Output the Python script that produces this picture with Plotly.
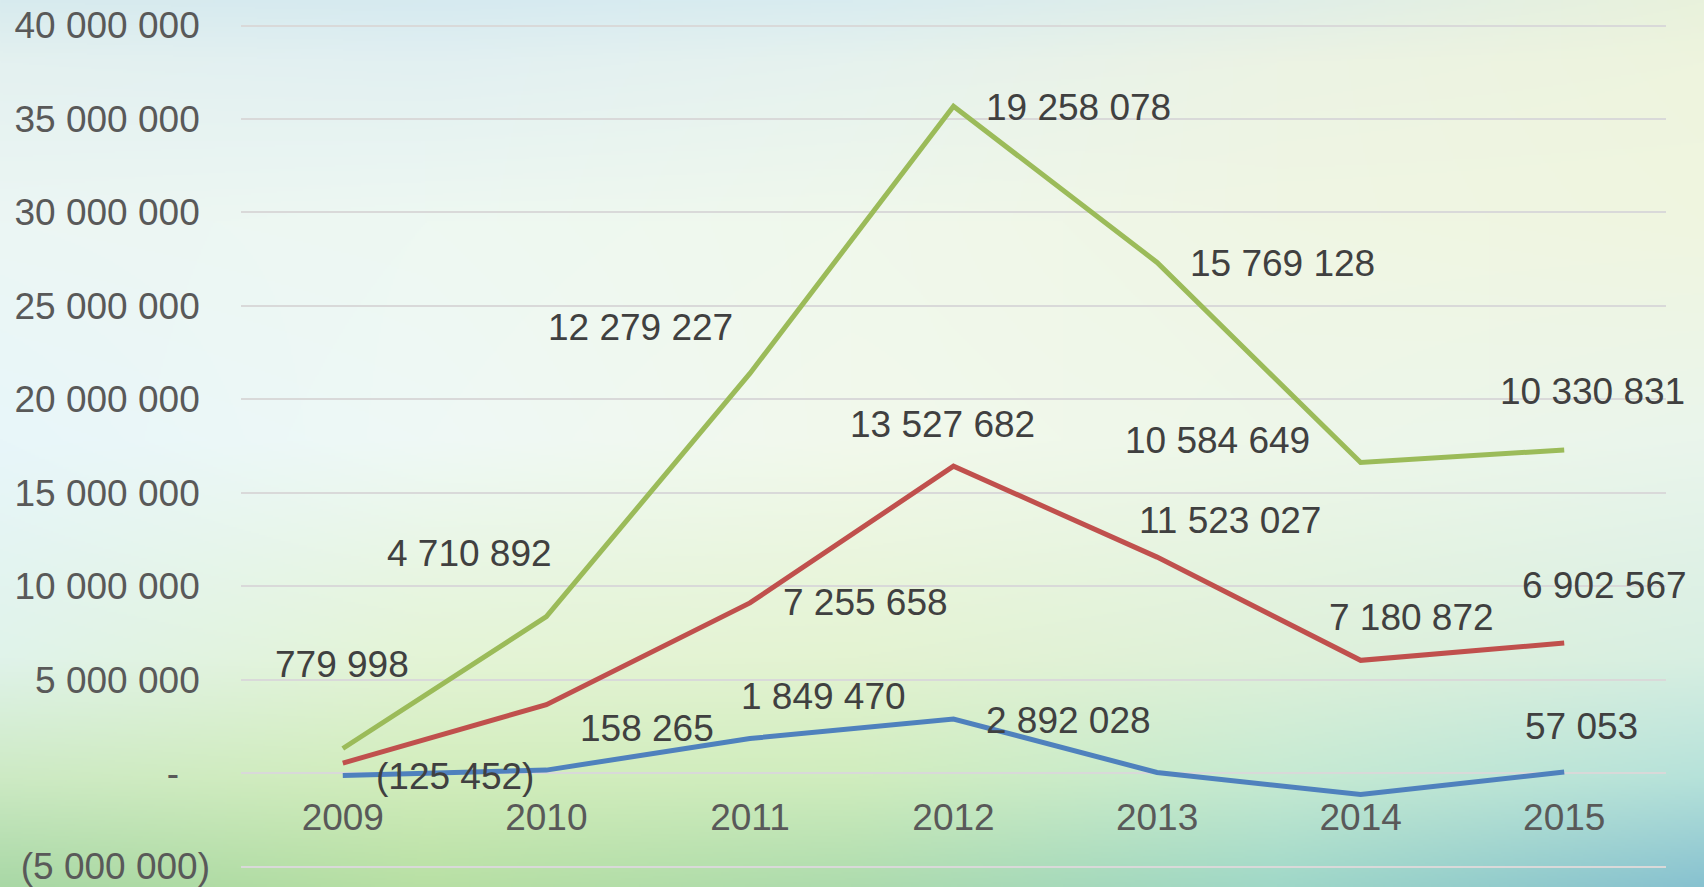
import base64
import struct
import zlib

import numpy as np
import plotly.graph_objects as go

# ---------------- data ----------------
years = ["2009", "2010", "2011", "2012", "2013", "2014", "2015"]
blue_values = [-125452, 158265, 1849470, 2892028, 32000, -1150000, 57053]
red_values = [660000, 3500000, 7255658, 13527682, 11523027, 7180872, 6902567]
green_values = [779998, 4710892, 12279227, 19258078, 15769128, 10584649, 10330831]

# which data labels are visible in the reference
blue_labels_shown = [True, True, True, True, False, False, True]
red_labels_shown = [False, False, True, True, True, True, True]
green_labels_shown = [True, True, True, True, True, True, True]

y_tick_values = [-5000000, 0, 5000000, 10000000, 15000000, 20000000,
                 25000000, 30000000, 35000000, 40000000]

# ---------------- styles ----------------
W, H = 1704, 887
M_L, M_R, M_T, M_B = 241, 38, 24, 19
FONT = "Liberation Sans, Arial, sans-serif"
TICK_COLOR = "#595959"
LABEL_COLOR = "#404040"
FS = 37
COLORS = {"blue": "#4F81BD", "red": "#C0504D", "green": "#9BBB59"}

# label offsets (xshift, yshift) in px relative to the point
OFFSETS = {
    "green": [(-1, 84), (-77, 63), (-109, 46), (125, -1), (125, -1), (-143, 22), (28, 58)],
    "red": [(0, 0), (0, 0), (116, 0), (-11, 42), (73, 37), (51, 43), (40, 57)],
    "blue": [(112, -1), (101, 42), (74, 42), (115, -1), (0, 0), (0, 0), (17, 45)],
}


def fmt(v, pad=True):
    s = f"{abs(int(round(v))):,}".replace(",", " ")
    if v < 0:
        return f"({s})"
    if v == 0:
        return "-\u2007\u00a0"
    return s + ("\u00a0" if pad else "")


# ---------------- background image ----------------
def hexrgb(h):
    h = h.lstrip("#")
    return [int(h[i:i + 2], 16) for i in (0, 2, 4)]


grid_rows_y = [0, 60, 220, 440, 660, 780, 887]
grid_cols_x = [0, 426, 852, 1278, 1704]
grid_colors = [
    ["#d8ebee", "#d6eaf0", "#d9ecf0", "#e0eee8", "#e9f2dc"],
    ["#e4f1f0", "#e2f0f2", "#e6f2ee", "#ecf3e4", "#eef4de"],
    ["#ecf6f4", "#eef8f2", "#f0f8ec", "#f0f6e4", "#f0f6e0"],
    ["#e8f6fa", "#eff9f6", "#f2f9ec", "#eef7ea", "#eaf5ec"],
    ["#e0f3ea", "#e4f4d6", "#e4f3d2", "#dff1da", "#d8efe2"],
    ["#cdeac4", "#d2edbc", "#d0edbe", "#c6ead2", "#b6e2da"],
    ["#a9d8a6", "#b8e0a4", "#aedcae", "#a0d8c8", "#88c2d0"],
]
cg = np.array([[hexrgb(c) for c in row] for row in grid_colors], dtype=float)
iw, ih = 852, 444
ys = np.linspace(0, H, ih)
xs = np.linspace(0, W, iw)
fy = np.interp(ys, grid_rows_y, np.arange(len(grid_rows_y)))
fx = np.interp(xs, grid_cols_x, np.arange(len(grid_cols_x)))
y0 = np.clip(np.floor(fy).astype(int), 0, len(grid_rows_y) - 2)
x0 = np.clip(np.floor(fx).astype(int), 0, len(grid_cols_x) - 2)
ty = (fy - y0)[:, None, None]
tx = (fx - x0)[None, :, None]
c00 = cg[y0][:, x0]
c01 = cg[y0][:, x0 + 1]
c10 = cg[y0 + 1][:, x0]
c11 = cg[y0 + 1][:, x0 + 1]
img = (c00 * (1 - ty) * (1 - tx) + c01 * (1 - ty) * tx
       + c10 * ty * (1 - tx) + c11 * ty * tx)
img = np.clip(img, 0, 255).astype(np.uint8)


def png_uri(a):
    h, w, _ = a.shape
    raw = b"".join(b"\x00" + a[r].tobytes() for r in range(h))

    def chunk(t, d):
        c = struct.pack(">I", len(d)) + t + d
        return c + struct.pack(">I", zlib.crc32(t + d) & 0xffffffff)

    png = (b"\x89PNG\r\n\x1a\n"
           + chunk(b"IHDR", struct.pack(">IIBBBBB", w, h, 8, 2, 0, 0, 0))
           + chunk(b"IDAT", zlib.compress(raw, 9))
           + chunk(b"IEND", b""))
    return "data:image/png;base64," + base64.b64encode(png).decode()


# ---------------- figure ----------------
fig = go.Figure()
series = [("blue", blue_values, blue_labels_shown),
          ("red", red_values, red_labels_shown),
          ("green", green_values, green_labels_shown)]

x_idx = list(range(len(years)))
cum = np.zeros(len(years))
annotations = []
for name, vals, shown in series:
    cum = cum + np.array(vals, dtype=float)
    fig.add_trace(go.Scatter(
        x=x_idx, y=vals, stackgroup="s", fill="none", mode="lines",
        line=dict(color=COLORS[name], width=5), name=name,
        hoverinfo="skip",
    ))
    for i, (v, sh) in enumerate(zip(vals, shown)):
        if not sh:
            continue
        dx, dy = OFFSETS[name][i]
        annotations.append(dict(
            x=x_idx[i], y=float(cum[i]), xref="x", yref="y",
            text=fmt(v, pad=False),
            showarrow=False, xshift=dx, yshift=dy,
            font=dict(family=FONT, size=FS, color=LABEL_COLOR),
        ))

ymin, ymax = y_tick_values[0], y_tick_values[-1]
eps = 80000
pw = W - M_L - M_R
ph = H - M_T - M_B

fig.update_layout(
    template="none",
    width=W, height=H,
    margin=dict(l=M_L, r=M_R, t=M_T, b=M_B, pad=0, autoexpand=False),
    paper_bgcolor="#eef6f0",
    plot_bgcolor="rgba(0,0,0,0)",
    showlegend=False,
    font=dict(family=FONT, size=FS, color=TICK_COLOR),
    annotations=annotations,
    images=[dict(
        source=png_uri(img), xref="paper", yref="paper",
        x=-M_L / pw, y=1 + M_T / ph, sizex=W / pw, sizey=H / ph,
        xanchor="left", yanchor="top", sizing="stretch", layer="below",
    )],
    xaxis=dict(
        range=[-0.5, len(years) - 0.5],
        tickvals=x_idx, ticktext=years,
        anchor="free", position=(0 - (ymin - eps)) / (ymax - ymin + 2 * eps),
        showgrid=False, zeroline=False, showline=False, ticks="",
        automargin=False, ticklabeloverflow="allow",
        tickfont=dict(family=FONT, size=FS, color=TICK_COLOR),
        ticklabelstandoff=19,
    ),
    yaxis=dict(
        range=[ymin - eps, ymax + eps], tickvals=y_tick_values,
        ticktext=[fmt(v) for v in y_tick_values],
        showgrid=True, gridcolor="#d9d9d9", gridwidth=2,
        zeroline=False, showline=False, ticks="",
        automargin=False, ticklabeloverflow="allow",
        tickfont=dict(family=FONT, size=FS, color=TICK_COLOR),
        ticklabelstandoff=30,
    ),
)

fig.write_html(
    "out.html",
    config={"displayModeBar": False},
    post_script="document.body.style.margin='0';document.body.style.overflow='hidden';",
)
